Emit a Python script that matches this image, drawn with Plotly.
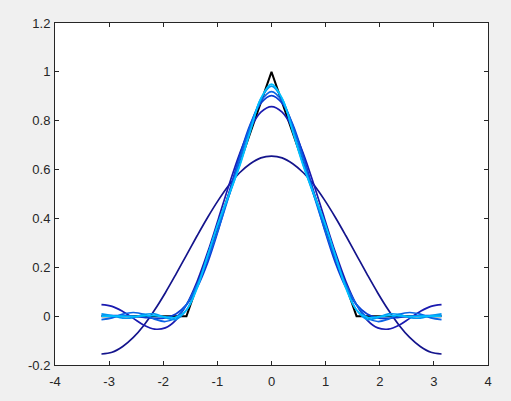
import plotly.graph_objects as go

# sample points: -pi .. pi in steps of pi/16
x_pts = [-3.1416, -2.9452, -2.7489, -2.5525, -2.3562, -2.1598, -1.9635, -1.7671,
         -1.5708, -1.3744, -1.1781, -0.9817, -0.7854, -0.5890, -0.3927, -0.1963,
         0.0,
         0.1963, 0.3927, 0.5890, 0.7854, 0.9817, 1.1781, 1.3744, 1.5708,
         1.7671, 1.9635, 2.1598, 2.3562, 2.5525, 2.7489, 2.9452, 3.1416]

# target pulse
pulse_x = [-3.1416, -1.5708, 0.0, 1.5708, 3.1416]
pulse_y = [0, 0, 1, 0, 0]

# partial sums
s1 = [-0.155, -0.148, -0.124, -0.087, -0.037, 0.025, 0.095, 0.171,
      0.250, 0.329, 0.405, 0.475, 0.537, 0.587, 0.624, 0.648,
      0.655,
      0.648, 0.624, 0.587, 0.537, 0.475, 0.405, 0.329, 0.250,
      0.171, 0.095, 0.025, -0.037, -0.087, -0.124, -0.148, -0.155]
s2 = [0.047, 0.040, 0.019, -0.009, -0.037, -0.053, -0.048, -0.016,
      0.047, 0.142, 0.262, 0.398, 0.537, 0.665, 0.768, 0.835,
      0.858,
      0.835, 0.768, 0.665, 0.537, 0.398, 0.262, 0.142, 0.047,
      -0.016, -0.048, -0.053, -0.037, -0.009, 0.019, 0.040, 0.047]
s3 = [0.002, 0.002, 0.002, -0.001, -0.005, -0.009, -0.007, 0.009,
      0.047, 0.117, 0.220, 0.353, 0.505, 0.656, 0.785, 0.872,
      0.903,
      0.872, 0.785, 0.656, 0.505, 0.353, 0.220, 0.117, 0.047,
      0.009, -0.007, -0.009, -0.005, -0.001, 0.002, 0.002, 0.002]
s5 = [-0.014, -0.007, 0.008, 0.015, 0.007, -0.012, -0.022, -0.005,
      0.047, 0.130, 0.235, 0.357, 0.493, 0.640, 0.779, 0.881,
      0.919,
      0.881, 0.779, 0.640, 0.493, 0.357, 0.235, 0.130, 0.047,
      -0.005, -0.022, -0.012, 0.007, 0.015, 0.008, -0.007, -0.014]
s6 = [0.009, 0.002, -0.008, -0.006, 0.007, 0.009, -0.006, -0.013,
      0.025, 0.122, 0.251, 0.377, 0.493, 0.619, 0.763, 0.890,
      0.942,
      0.890, 0.763, 0.619, 0.493, 0.377, 0.251, 0.122, 0.025,
      -0.013, -0.006, 0.009, 0.007, -0.006, -0.008, 0.002, 0.009]
s7 = [0.000, 0.000, 0.000, -0.001, 0.001, 0.002, -0.003, -0.005,
      0.025, 0.114, 0.248, 0.384, 0.499, 0.614, 0.755, 0.891,
      0.950,
      0.891, 0.755, 0.614, 0.499, 0.384, 0.248, 0.114, 0.025,
      -0.005, -0.003, 0.002, 0.001, -0.001, 0.000, 0.000, 0.000]

series = [s1, s2, s3, s5, s6, s7]
colors = ["#14148c", "#1a1ab0", "#0a3cd4", "#0a64e6", "#0096f0", "#00c0ff"]

x_ticks = [-4, -3, -2, -1, 0, 1, 2, 3, 4]
x_labels = ["-4", "-3", "-2", "-1", "0", "1", "2", "3", "4"]
y_ticks = [-0.2, 0, 0.2, 0.4, 0.6, 0.8, 1, 1.2]
y_labels = ["-0.2", "0", "0.2", "0.4", "0.6", "0.8", "1", "1.2"]

fig = go.Figure()
fig.add_trace(go.Scatter(x=pulse_x, y=pulse_y, mode="lines",
                         line=dict(color="black", width=2)))
for ys, c in zip(series, colors):
    fig.add_trace(go.Scatter(x=x_pts, y=ys, mode="lines",
                             line=dict(color=c, width=1.7, shape="spline")))

axis_style = dict(showgrid=False, zeroline=False, showline=True, mirror="ticks",
                  linecolor="#262626", linewidth=1, ticks="inside", ticklen=4,
                  tickcolor="#262626", tickfont=dict(family="Liberation Sans", size=13, color="#262626"))
fig.update_xaxes(range=[-4, 4], tickvals=x_ticks, ticktext=x_labels,
                 ticklabelstandoff=4, **axis_style)
fig.update_yaxes(range=[-0.2, 1.2], tickvals=y_ticks, ticktext=y_labels,
                 ticklabelstandoff=1, **axis_style)
fig.update_layout(width=511, height=401, showlegend=False,
                  paper_bgcolor="#f0f0f0", plot_bgcolor="white",
                  margin=dict(l=55, r=23, t=23, b=36))

# page has no margin so the figure fills the window
fig.write_html("out.html", config={"displayModeBar": False},
               post_script="document.body.style.margin='0';"
                           "document.body.style.background='#f0f0f0';")
